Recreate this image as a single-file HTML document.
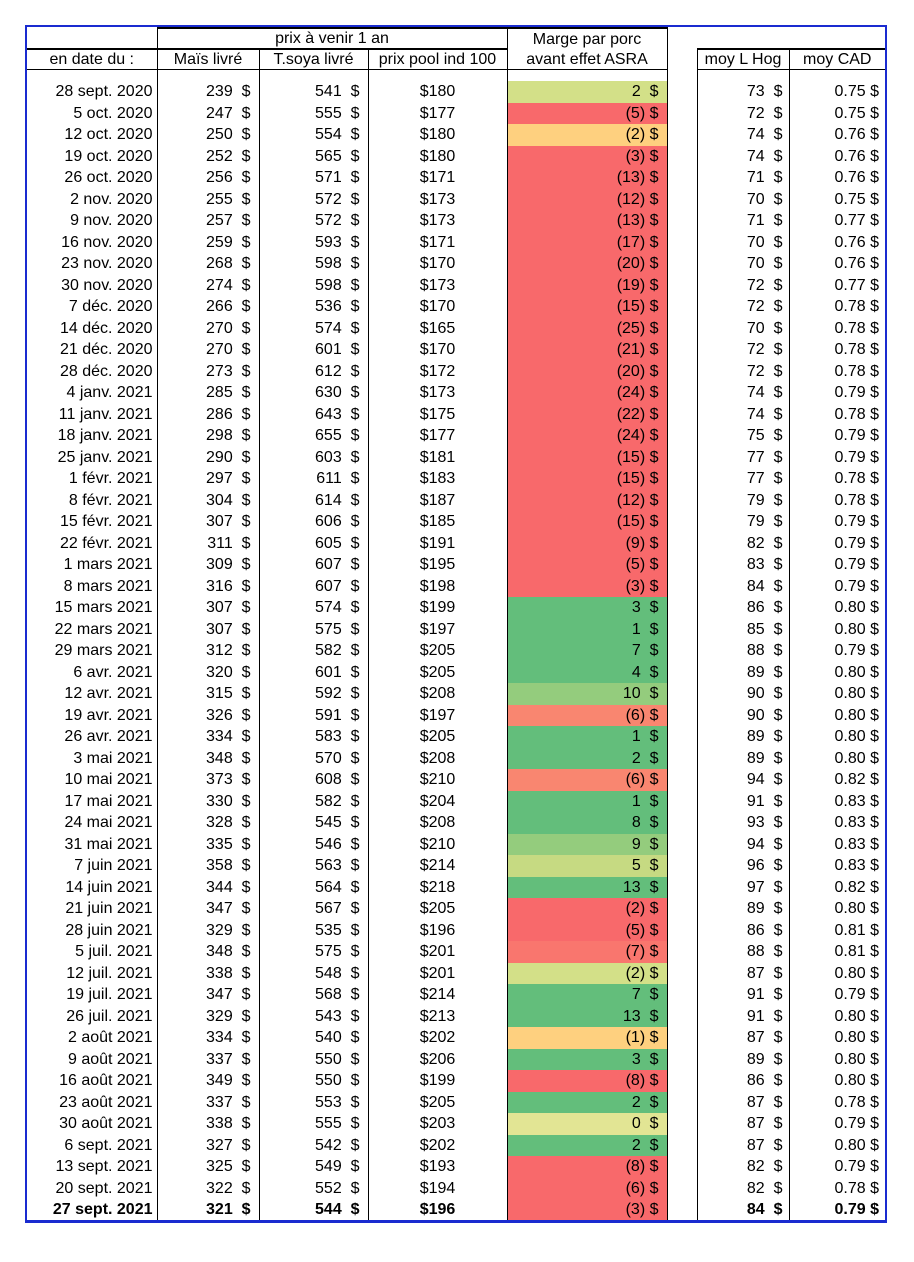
<!DOCTYPE html>
<html><head><meta charset="utf-8"><style>
body{margin:0;background:#fff;width:914px;height:1262px;position:relative;font-family:"Liberation Sans",Arial,sans-serif;font-size:16px;color:#000}
#wrap{position:absolute;left:25px;top:25px;width:858px;height:1193px;border:2px solid #1a2bd0;border-bottom-width:3px;overflow:hidden}
table{position:absolute;left:0;top:0;border-collapse:collapse;table-layout:fixed}
td{padding:0;height:21.5px;line-height:21.5px;white-space:nowrap;overflow:hidden}
.d{text-align:right;padding-right:4px;border-right:1.5px solid #000}
.n{text-align:right;padding-right:8px;border-right:1.5px solid #000}
.p{text-align:center;border-right:1.5px solid #000}
.m{text-align:right;padding-right:8px;border-right:1.5px solid #000}
.g{border-right:1.5px solid #000}
.h{text-align:right;padding-right:6px;border-right:1.5px solid #000}
.c{text-align:right;padding-right:6px}
.G{background:#63be7b}.L{background:#94cc7d}.Y{background:#c6da82}.Z{background:#d3e088}.E{background:#e2e594}.O{background:#fed07f}.R{background:#f8696b}.S{background:#f98670}.T{background:#f9766e}
.hd td{text-align:center;height:19px;line-height:19px}
.bl td{height:11px;line-height:0;font-size:0}
</style></head><body>
<div id="wrap">
<table>
<colgroup><col style="width:130px"><col style="width:102px"><col style="width:109px"><col style="width:139px"><col style="width:160px"><col style="width:30px"><col style="width:92px"><col style="width:96px"></colgroup>
<tr class="hd"><td style="border-right:1.5px solid #000"></td><td colspan="3" style="border-top:2px solid #000;border-right:1.5px solid #000">prix à venir 1 an</td><td style="border-top:2px solid #000;border-right:1.5px solid #000">Marge par porc</td><td></td><td></td><td></td></tr>
<tr class="hd"><td style="border-top:2px solid #000;border-bottom:1.5px solid #000;border-right:1.5px solid #000">en date du :</td><td style="border-top:2px solid #000;border-bottom:1.5px solid #000;border-right:1.5px solid #000">Maïs livré</td><td style="border-top:2px solid #000;border-bottom:1.5px solid #000;border-right:1.5px solid #000">T.soya livré</td><td style="border-top:2px solid #000;border-bottom:1.5px solid #000;border-right:1.5px solid #000">prix pool ind 100</td><td style="border-bottom:1.5px solid #000;border-right:1.5px solid #000">avant effet ASRA</td><td style="border-right:1.5px solid #000"></td><td style="border-top:2px solid #000;border-bottom:1.5px solid #000;border-right:1.5px solid #000">moy L Hog</td><td style="border-top:2px solid #000;border-bottom:1.5px solid #000">moy CAD</td></tr>
<tr class="bl"><td class="d"></td><td class="n"></td><td class="n"></td><td class="p"></td><td class="m"></td><td class="g"></td><td class="h"></td><td class="c"></td></tr>
<tr><td class="d">28 sept. 2020</td><td class="n">239&nbsp; $</td><td class="n">541&nbsp; $</td><td class="p">$180</td><td class="m Z">2&nbsp; $</td><td class="g"></td><td class="h">73&nbsp; $</td><td class="c">0.75 $</td></tr>
<tr><td class="d">5 oct. 2020</td><td class="n">247&nbsp; $</td><td class="n">555&nbsp; $</td><td class="p">$177</td><td class="m R">(5) $</td><td class="g"></td><td class="h">72&nbsp; $</td><td class="c">0.75 $</td></tr>
<tr><td class="d">12 oct. 2020</td><td class="n">250&nbsp; $</td><td class="n">554&nbsp; $</td><td class="p">$180</td><td class="m O">(2) $</td><td class="g"></td><td class="h">74&nbsp; $</td><td class="c">0.76 $</td></tr>
<tr><td class="d">19 oct. 2020</td><td class="n">252&nbsp; $</td><td class="n">565&nbsp; $</td><td class="p">$180</td><td class="m R">(3) $</td><td class="g"></td><td class="h">74&nbsp; $</td><td class="c">0.76 $</td></tr>
<tr><td class="d">26 oct. 2020</td><td class="n">256&nbsp; $</td><td class="n">571&nbsp; $</td><td class="p">$171</td><td class="m R">(13) $</td><td class="g"></td><td class="h">71&nbsp; $</td><td class="c">0.76 $</td></tr>
<tr><td class="d">2 nov. 2020</td><td class="n">255&nbsp; $</td><td class="n">572&nbsp; $</td><td class="p">$173</td><td class="m R">(12) $</td><td class="g"></td><td class="h">70&nbsp; $</td><td class="c">0.75 $</td></tr>
<tr><td class="d">9 nov. 2020</td><td class="n">257&nbsp; $</td><td class="n">572&nbsp; $</td><td class="p">$173</td><td class="m R">(13) $</td><td class="g"></td><td class="h">71&nbsp; $</td><td class="c">0.77 $</td></tr>
<tr><td class="d">16 nov. 2020</td><td class="n">259&nbsp; $</td><td class="n">593&nbsp; $</td><td class="p">$171</td><td class="m R">(17) $</td><td class="g"></td><td class="h">70&nbsp; $</td><td class="c">0.76 $</td></tr>
<tr><td class="d">23 nov. 2020</td><td class="n">268&nbsp; $</td><td class="n">598&nbsp; $</td><td class="p">$170</td><td class="m R">(20) $</td><td class="g"></td><td class="h">70&nbsp; $</td><td class="c">0.76 $</td></tr>
<tr><td class="d">30 nov. 2020</td><td class="n">274&nbsp; $</td><td class="n">598&nbsp; $</td><td class="p">$173</td><td class="m R">(19) $</td><td class="g"></td><td class="h">72&nbsp; $</td><td class="c">0.77 $</td></tr>
<tr><td class="d">7 déc. 2020</td><td class="n">266&nbsp; $</td><td class="n">536&nbsp; $</td><td class="p">$170</td><td class="m R">(15) $</td><td class="g"></td><td class="h">72&nbsp; $</td><td class="c">0.78 $</td></tr>
<tr><td class="d">14 déc. 2020</td><td class="n">270&nbsp; $</td><td class="n">574&nbsp; $</td><td class="p">$165</td><td class="m R">(25) $</td><td class="g"></td><td class="h">70&nbsp; $</td><td class="c">0.78 $</td></tr>
<tr><td class="d">21 déc. 2020</td><td class="n">270&nbsp; $</td><td class="n">601&nbsp; $</td><td class="p">$170</td><td class="m R">(21) $</td><td class="g"></td><td class="h">72&nbsp; $</td><td class="c">0.78 $</td></tr>
<tr><td class="d">28 déc. 2020</td><td class="n">273&nbsp; $</td><td class="n">612&nbsp; $</td><td class="p">$172</td><td class="m R">(20) $</td><td class="g"></td><td class="h">72&nbsp; $</td><td class="c">0.78 $</td></tr>
<tr><td class="d">4 janv. 2021</td><td class="n">285&nbsp; $</td><td class="n">630&nbsp; $</td><td class="p">$173</td><td class="m R">(24) $</td><td class="g"></td><td class="h">74&nbsp; $</td><td class="c">0.79 $</td></tr>
<tr><td class="d">11 janv. 2021</td><td class="n">286&nbsp; $</td><td class="n">643&nbsp; $</td><td class="p">$175</td><td class="m R">(22) $</td><td class="g"></td><td class="h">74&nbsp; $</td><td class="c">0.78 $</td></tr>
<tr><td class="d">18 janv. 2021</td><td class="n">298&nbsp; $</td><td class="n">655&nbsp; $</td><td class="p">$177</td><td class="m R">(24) $</td><td class="g"></td><td class="h">75&nbsp; $</td><td class="c">0.79 $</td></tr>
<tr><td class="d">25 janv. 2021</td><td class="n">290&nbsp; $</td><td class="n">603&nbsp; $</td><td class="p">$181</td><td class="m R">(15) $</td><td class="g"></td><td class="h">77&nbsp; $</td><td class="c">0.79 $</td></tr>
<tr><td class="d">1 févr. 2021</td><td class="n">297&nbsp; $</td><td class="n">611&nbsp; $</td><td class="p">$183</td><td class="m R">(15) $</td><td class="g"></td><td class="h">77&nbsp; $</td><td class="c">0.78 $</td></tr>
<tr><td class="d">8 févr. 2021</td><td class="n">304&nbsp; $</td><td class="n">614&nbsp; $</td><td class="p">$187</td><td class="m R">(12) $</td><td class="g"></td><td class="h">79&nbsp; $</td><td class="c">0.78 $</td></tr>
<tr><td class="d">15 févr. 2021</td><td class="n">307&nbsp; $</td><td class="n">606&nbsp; $</td><td class="p">$185</td><td class="m R">(15) $</td><td class="g"></td><td class="h">79&nbsp; $</td><td class="c">0.79 $</td></tr>
<tr><td class="d">22 févr. 2021</td><td class="n">311&nbsp; $</td><td class="n">605&nbsp; $</td><td class="p">$191</td><td class="m R">(9) $</td><td class="g"></td><td class="h">82&nbsp; $</td><td class="c">0.79 $</td></tr>
<tr><td class="d">1 mars 2021</td><td class="n">309&nbsp; $</td><td class="n">607&nbsp; $</td><td class="p">$195</td><td class="m R">(5) $</td><td class="g"></td><td class="h">83&nbsp; $</td><td class="c">0.79 $</td></tr>
<tr><td class="d">8 mars 2021</td><td class="n">316&nbsp; $</td><td class="n">607&nbsp; $</td><td class="p">$198</td><td class="m R">(3) $</td><td class="g"></td><td class="h">84&nbsp; $</td><td class="c">0.79 $</td></tr>
<tr><td class="d">15 mars 2021</td><td class="n">307&nbsp; $</td><td class="n">574&nbsp; $</td><td class="p">$199</td><td class="m G">3&nbsp; $</td><td class="g"></td><td class="h">86&nbsp; $</td><td class="c">0.80 $</td></tr>
<tr><td class="d">22 mars 2021</td><td class="n">307&nbsp; $</td><td class="n">575&nbsp; $</td><td class="p">$197</td><td class="m G">1&nbsp; $</td><td class="g"></td><td class="h">85&nbsp; $</td><td class="c">0.80 $</td></tr>
<tr><td class="d">29 mars 2021</td><td class="n">312&nbsp; $</td><td class="n">582&nbsp; $</td><td class="p">$205</td><td class="m G">7&nbsp; $</td><td class="g"></td><td class="h">88&nbsp; $</td><td class="c">0.79 $</td></tr>
<tr><td class="d">6 avr. 2021</td><td class="n">320&nbsp; $</td><td class="n">601&nbsp; $</td><td class="p">$205</td><td class="m G">4&nbsp; $</td><td class="g"></td><td class="h">89&nbsp; $</td><td class="c">0.80 $</td></tr>
<tr><td class="d">12 avr. 2021</td><td class="n">315&nbsp; $</td><td class="n">592&nbsp; $</td><td class="p">$208</td><td class="m L">10&nbsp; $</td><td class="g"></td><td class="h">90&nbsp; $</td><td class="c">0.80 $</td></tr>
<tr><td class="d">19 avr. 2021</td><td class="n">326&nbsp; $</td><td class="n">591&nbsp; $</td><td class="p">$197</td><td class="m S">(6) $</td><td class="g"></td><td class="h">90&nbsp; $</td><td class="c">0.80 $</td></tr>
<tr><td class="d">26 avr. 2021</td><td class="n">334&nbsp; $</td><td class="n">583&nbsp; $</td><td class="p">$205</td><td class="m G">1&nbsp; $</td><td class="g"></td><td class="h">89&nbsp; $</td><td class="c">0.80 $</td></tr>
<tr><td class="d">3 mai 2021</td><td class="n">348&nbsp; $</td><td class="n">570&nbsp; $</td><td class="p">$208</td><td class="m G">2&nbsp; $</td><td class="g"></td><td class="h">89&nbsp; $</td><td class="c">0.80 $</td></tr>
<tr><td class="d">10 mai 2021</td><td class="n">373&nbsp; $</td><td class="n">608&nbsp; $</td><td class="p">$210</td><td class="m S">(6) $</td><td class="g"></td><td class="h">94&nbsp; $</td><td class="c">0.82 $</td></tr>
<tr><td class="d">17 mai 2021</td><td class="n">330&nbsp; $</td><td class="n">582&nbsp; $</td><td class="p">$204</td><td class="m G">1&nbsp; $</td><td class="g"></td><td class="h">91&nbsp; $</td><td class="c">0.83 $</td></tr>
<tr><td class="d">24 mai 2021</td><td class="n">328&nbsp; $</td><td class="n">545&nbsp; $</td><td class="p">$208</td><td class="m G">8&nbsp; $</td><td class="g"></td><td class="h">93&nbsp; $</td><td class="c">0.83 $</td></tr>
<tr><td class="d">31 mai 2021</td><td class="n">335&nbsp; $</td><td class="n">546&nbsp; $</td><td class="p">$210</td><td class="m L">9&nbsp; $</td><td class="g"></td><td class="h">94&nbsp; $</td><td class="c">0.83 $</td></tr>
<tr><td class="d">7 juin 2021</td><td class="n">358&nbsp; $</td><td class="n">563&nbsp; $</td><td class="p">$214</td><td class="m Y">5&nbsp; $</td><td class="g"></td><td class="h">96&nbsp; $</td><td class="c">0.83 $</td></tr>
<tr><td class="d">14 juin 2021</td><td class="n">344&nbsp; $</td><td class="n">564&nbsp; $</td><td class="p">$218</td><td class="m G">13&nbsp; $</td><td class="g"></td><td class="h">97&nbsp; $</td><td class="c">0.82 $</td></tr>
<tr><td class="d">21 juin 2021</td><td class="n">347&nbsp; $</td><td class="n">567&nbsp; $</td><td class="p">$205</td><td class="m R">(2) $</td><td class="g"></td><td class="h">89&nbsp; $</td><td class="c">0.80 $</td></tr>
<tr><td class="d">28 juin 2021</td><td class="n">329&nbsp; $</td><td class="n">535&nbsp; $</td><td class="p">$196</td><td class="m R">(5) $</td><td class="g"></td><td class="h">86&nbsp; $</td><td class="c">0.81 $</td></tr>
<tr><td class="d">5 juil. 2021</td><td class="n">348&nbsp; $</td><td class="n">575&nbsp; $</td><td class="p">$201</td><td class="m T">(7) $</td><td class="g"></td><td class="h">88&nbsp; $</td><td class="c">0.81 $</td></tr>
<tr><td class="d">12 juil. 2021</td><td class="n">338&nbsp; $</td><td class="n">548&nbsp; $</td><td class="p">$201</td><td class="m Z">(2) $</td><td class="g"></td><td class="h">87&nbsp; $</td><td class="c">0.80 $</td></tr>
<tr><td class="d">19 juil. 2021</td><td class="n">347&nbsp; $</td><td class="n">568&nbsp; $</td><td class="p">$214</td><td class="m G">7&nbsp; $</td><td class="g"></td><td class="h">91&nbsp; $</td><td class="c">0.79 $</td></tr>
<tr><td class="d">26 juil. 2021</td><td class="n">329&nbsp; $</td><td class="n">543&nbsp; $</td><td class="p">$213</td><td class="m G">13&nbsp; $</td><td class="g"></td><td class="h">91&nbsp; $</td><td class="c">0.80 $</td></tr>
<tr><td class="d">2 août 2021</td><td class="n">334&nbsp; $</td><td class="n">540&nbsp; $</td><td class="p">$202</td><td class="m O">(1) $</td><td class="g"></td><td class="h">87&nbsp; $</td><td class="c">0.80 $</td></tr>
<tr><td class="d">9 août 2021</td><td class="n">337&nbsp; $</td><td class="n">550&nbsp; $</td><td class="p">$206</td><td class="m G">3&nbsp; $</td><td class="g"></td><td class="h">89&nbsp; $</td><td class="c">0.80 $</td></tr>
<tr><td class="d">16 août 2021</td><td class="n">349&nbsp; $</td><td class="n">550&nbsp; $</td><td class="p">$199</td><td class="m R">(8) $</td><td class="g"></td><td class="h">86&nbsp; $</td><td class="c">0.80 $</td></tr>
<tr><td class="d">23 août 2021</td><td class="n">337&nbsp; $</td><td class="n">553&nbsp; $</td><td class="p">$205</td><td class="m G">2&nbsp; $</td><td class="g"></td><td class="h">87&nbsp; $</td><td class="c">0.78 $</td></tr>
<tr><td class="d">30 août 2021</td><td class="n">338&nbsp; $</td><td class="n">555&nbsp; $</td><td class="p">$203</td><td class="m E">0&nbsp; $</td><td class="g"></td><td class="h">87&nbsp; $</td><td class="c">0.79 $</td></tr>
<tr><td class="d">6 sept. 2021</td><td class="n">327&nbsp; $</td><td class="n">542&nbsp; $</td><td class="p">$202</td><td class="m G">2&nbsp; $</td><td class="g"></td><td class="h">87&nbsp; $</td><td class="c">0.80 $</td></tr>
<tr><td class="d">13 sept. 2021</td><td class="n">325&nbsp; $</td><td class="n">549&nbsp; $</td><td class="p">$193</td><td class="m R">(8) $</td><td class="g"></td><td class="h">82&nbsp; $</td><td class="c">0.79 $</td></tr>
<tr><td class="d">20 sept. 2021</td><td class="n">322&nbsp; $</td><td class="n">552&nbsp; $</td><td class="p">$194</td><td class="m R">(6) $</td><td class="g"></td><td class="h">82&nbsp; $</td><td class="c">0.78 $</td></tr>
<tr style="font-weight:bold"><td class="d">27 sept. 2021</td><td class="n">321&nbsp; $</td><td class="n">544&nbsp; $</td><td class="p">$196</td><td class="m R" style="font-weight:normal">(3) $</td><td class="g"></td><td class="h">84&nbsp; $</td><td class="c">0.79 $</td></tr>
</table>
</div>
</body></html>
